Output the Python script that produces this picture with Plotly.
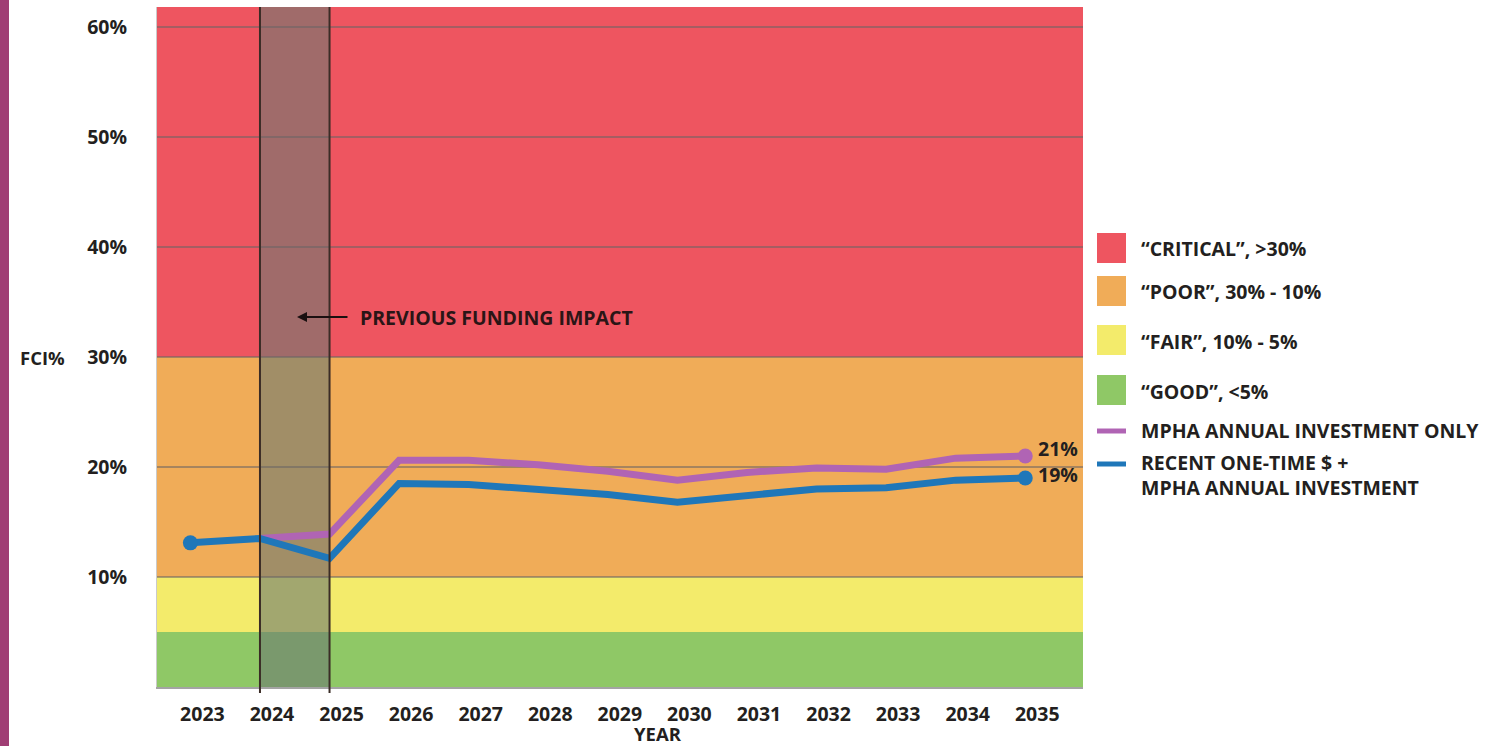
import plotly.graph_objects as go

# ---- data -------------------------------------------------------------
years = [2023, 2024, 2025, 2026, 2027, 2028, 2029, 2030, 2031, 2032, 2033, 2034, 2035]

# MPHA annual investment only (series starts in 2024)
annual_years = years[1:]
annual_only = [13.5, 13.9, 20.6, 20.6, 20.2, 19.6, 18.8, 19.5, 19.9, 19.8, 20.8, 21.0]

# Recent one-time $ + MPHA annual investment
one_time_plus = [13.1, 13.5, 11.7, 18.5, 18.4, 17.9, 17.5, 16.8, 17.4, 18.0, 18.1, 18.8, 19.0]

# FCI condition bands
band_names = ["\u201cCRITICAL\u201d, >30%", "\u201cPOOR\u201d, 30% - 10%",
              "\u201cFAIR\u201d, 10% - 5%", "\u201cGOOD\u201d, <5%"]
band_low = [30, 10, 5, 0]
band_high = [62, 30, 10, 5]

# previous funding impact window
impact_start, impact_end = 2024, 2025

y_ticks = [10, 20, 30, 40, 50, 60]
y_tick_text = ["10%", "20%", "30%", "40%", "50%", "60%"]

series_names = ["MPHA ANNUAL INVESTMENT ONLY", "RECENT ONE-TIME $ +<br>MPHA ANNUAL INVESTMENT"]

# ---- styling -----------------------------------------------------------
W, H = 1485, 746
L, R, T, B = 157, 402, 7, 59
PW, PH = W - L - R, H - T - B

band_colors = ["#EE5560", "#F0AC58", "#F3EB6B", "#8FC866"]
purple = "#B064B4"
blue = "#1F77B9"
ink = "#231F20"
FONT = "Open Sans"
FS = 19.5
X_RANGE = [2022.52, 2035.83]
Y_RANGE = [0, 61.8]


def px(xp):
    return (xp - L) / PW


def py(yp):
    return (H - B - yp) / PH


def label(x, y, text, size=FS, xanchor="left", **kw):
    fig.add_annotation(x=x, y=y, xref="paper", yref="paper", text=f"<b>{text}</b>",
                       showarrow=False, xanchor=xanchor, yanchor="middle", align="left",
                       font=dict(family=FONT, size=size, color=kw.pop("color", ink)), **kw)


fig = go.Figure()

# condition bands behind everything
for lo, hi, col in zip(band_low, band_high, band_colors):
    fig.add_shape(type="rect", xref="paper", yref="y", x0=0, x1=1, y0=lo, y1=hi,
                  fillcolor=col, line_width=0, layer="below")

# shaded funding-impact window
fig.add_shape(type="rect", xref="x", yref="y", x0=impact_start, x1=impact_end,
              y0=0, y1=Y_RANGE[1], fillcolor="rgba(108,122,114,0.6)",
              line_width=0, layer="below")
for xv in (impact_start, impact_end):
    fig.add_shape(type="line", xref="x", yref="paper", x0=xv, x1=xv, y0=-0.009, y1=1,
                  line=dict(color="#3A2C26", width=2))

# series lines
fig.add_trace(go.Scatter(x=annual_years, y=annual_only, mode="lines",
                         line=dict(color=purple, width=7), showlegend=False,
                         name=series_names[0]))
fig.add_trace(go.Scatter(x=years, y=one_time_plus, mode="lines",
                         line=dict(color=blue, width=7), showlegend=False,
                         name=series_names[1]))

# end-point dots
fig.add_trace(go.Scatter(x=[annual_years[-1]], y=[annual_only[-1]], mode="markers",
                         marker=dict(color=purple, size=15), showlegend=False))
fig.add_trace(go.Scatter(x=[years[0], years[-1]], y=[one_time_plus[0], one_time_plus[-1]],
                         mode="markers", marker=dict(color=blue, size=15), showlegend=False))

# value labels at the line ends
fig.add_annotation(x=annual_years[-1], y=annual_only[-1], text=f"<b>{annual_only[-1]:.0f}%</b>",
                   showarrow=False, xanchor="left", yanchor="middle", xshift=11, yshift=7,
                   font=dict(family=FONT, size=FS, color=ink))
fig.add_annotation(x=years[-1], y=one_time_plus[-1], text=f"<b>{one_time_plus[-1]:.0f}%</b>",
                   showarrow=False, xanchor="left", yanchor="middle", xshift=11, yshift=3,
                   font=dict(family=FONT, size=FS, color=ink))

# funding impact call-out
fig.add_annotation(x=px(297), y=py(317), ax=52, ay=0,
                   xref="paper", yref="paper", axref="pixel", ayref="pixel",
                   text="", showarrow=True, arrowhead=2, arrowsize=1, arrowwidth=2,
                   arrowcolor="#1A1010")
label(px(358), py(317), "PREVIOUS FUNDING IMPACT", color="#2A1516")

# axis titles
label(px(42), py(358), "FCI%", size=18.5, xanchor="center")
label(px(658), py(733), "YEAR", size=18.5, xanchor="center")

# legend: band swatches
swatch_tops = [233, 276, 325, 375]
for name, col, top in zip(band_names, band_colors, swatch_tops):
    fig.add_shape(type="rect", xref="paper", yref="paper", x0=px(1097), x1=px(1126),
                  y0=py(top + 30), y1=py(top), fillcolor=col, line_width=0)
    label(px(1139), py(top + 16), name)

# legend: series swatches
line_rows = [(purple, 431, 430), (blue, 464, 475)]
for (col, ly, ty), name in zip(line_rows, series_names):
    fig.add_shape(type="line", xref="paper", yref="paper", x0=px(1097), x1=px(1126),
                  y0=py(ly), y1=py(ly), line=dict(color=col, width=5))
    label(px(1139), py(ty), name)

# accent strip on the left edge of the page
fig.add_shape(type="rect", xref="paper", yref="paper", x0=px(0), x1=px(9), y0=py(H), y1=py(0),
              fillcolor="#A03E74", line_width=0)

fig.update_layout(
    width=W, height=H,
    margin=dict(l=L, r=R, t=T, b=B, pad=0),
    paper_bgcolor="white", plot_bgcolor="white",
    showlegend=False,
    font=dict(family=FONT, color=ink),
    xaxis=dict(range=X_RANGE, tickvals=years, ticktext=[f"<b>{y}</b>" for y in years],
               showgrid=False, zeroline=False, ticks="", ticklabelshift=12,
               ticklabelstandoff=9, tickfont=dict(family=FONT, size=FS, color=ink),
               showline=True, linecolor="rgba(90,90,90,0.55)", linewidth=2),
    yaxis=dict(range=Y_RANGE, tickvals=y_ticks, ticktext=[f"<b>{t}</b>" for t in y_tick_text],
               showgrid=True, gridcolor="rgba(105,100,100,0.55)", gridwidth=2,
               zeroline=False, ticks="", ticklabelstandoff=25,
               tickfont=dict(family=FONT, size=FS, color=ink),
               showline=True, linecolor="rgba(150,150,150,0.5)", linewidth=1),
)

fig.write_html("out.html")
